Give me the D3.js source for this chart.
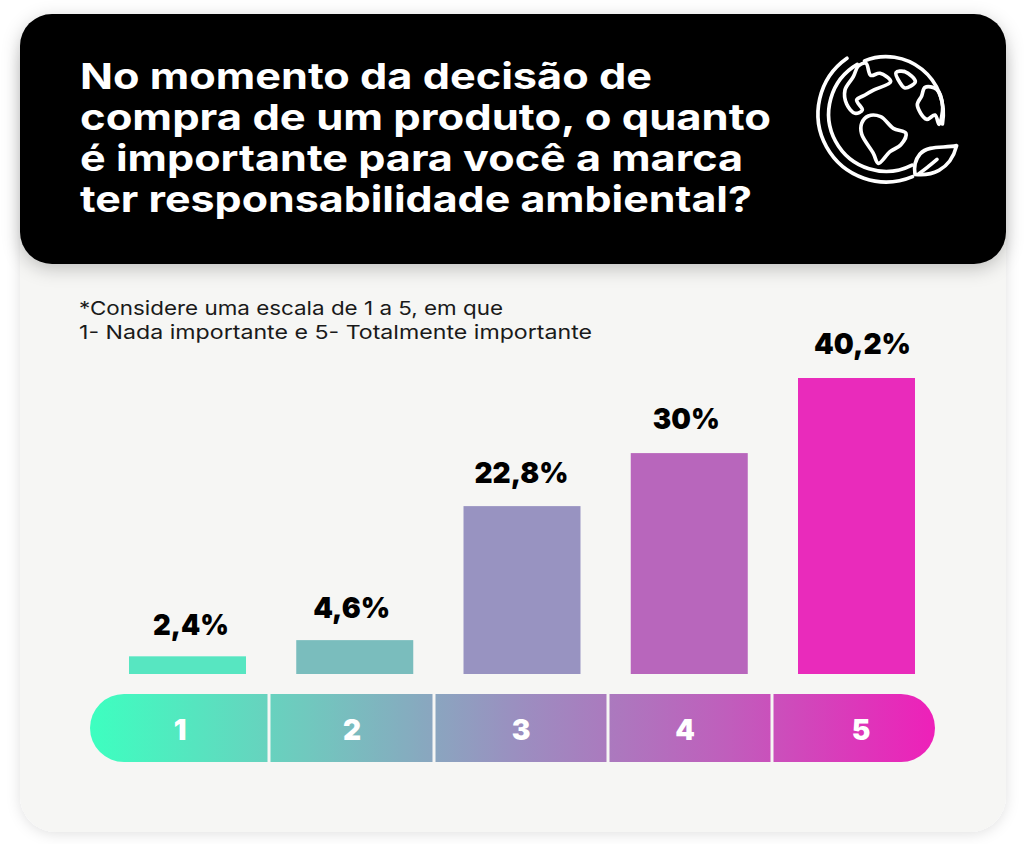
<!DOCTYPE html>
<html lang="pt-BR">
<head>
<meta charset="utf-8">
<title>Responsabilidade ambiental</title>
<script src="https://cdn.jsdelivr.net/npm/d3@7"></script>
<style>
  html, body { margin: 0; padding: 0; background: #fff; }
  svg { display: block; }
  text { font-family: Inter, "Open Sans", sans-serif; }
</style>
</head>
<body>
<svg id="chart" width="1024" height="844"></svg>
<script>
// Survey answers, one entry per scale step
const categories = ["1", "2", "3", "4", "5"];
const percentages = [2.4, 4.6, 22.8, 30, 40.2];
const valueLabels = ["2,4%", "4,6%", "22,8%", "30%", "40,2%"];
const barColors = ["#57e6c1", "#7abdbd", "#9893c1", "#b866bc", "#e92bbb"];
const titleLines = [
  "No momento da decisão de",
  "compra de um produto, o quanto",
  "é importante para você a marca",
  "ter responsabilidade ambiental?"
];
const noteLines = [
  "*Considere uma escala de 1 a 5, em que",
  "1- Nada importante e 5- Totalmente importante"
];

// Layout
const titleWidths = [572, 691, 663, 672];
const noteWidths = [424, 513];
const labelWidths = [76, 77, 94, 67, 97];
const labelShiftX = [3.5, -3, -0.5, -3, 6];
const labelGap = [21, 22, 23, 24, 24];
const stripDividers = [269, 434, 608, 772];
const stripCenters = [180, 352, 521, 685, 861];

const svg = d3.select("#chart");
const defs = svg.append("defs");

const softShadow = defs.append("filter").attr("id", "cardShadow")
  .attr("x", "-5%").attr("y", "-5%").attr("width", "110%").attr("height", "110%");
softShadow.append("feDropShadow")
  .attr("dx", 0).attr("dy", 2).attr("stdDeviation", 7)
  .attr("flood-color", "#000").attr("flood-opacity", 0.12);

const headerShadow = defs.append("filter").attr("id", "headerShadow")
  .attr("x", "-5%").attr("y", "-10%").attr("width", "110%").attr("height", "125%");
headerShadow.append("feDropShadow")
  .attr("dx", 0).attr("dy", 5).attr("stdDeviation", 9)
  .attr("flood-color", "#000").attr("flood-opacity", 0.22);

const stripGradient = defs.append("linearGradient").attr("id", "stripGradient");
[["0%", "#3dffc0"], ["25%", "#6fcabe"], ["50%", "#9a90c0"], ["75%", "#bf5fbc"], ["100%", "#ee20b9"]]
  .forEach(([offset, color]) => stripGradient.append("stop").attr("offset", offset).attr("stop-color", color));

// Card and header panel
svg.append("rect").attr("x", 20).attr("y", 30).attr("width", 986).attr("height", 802)
  .attr("rx", 36).attr("fill", "#f6f6f4").attr("filter", "url(#cardShadow)");
svg.append("rect").attr("x", 20).attr("y", 14).attr("width", 986).attr("height", 250)
  .attr("rx", 32).attr("fill", "#000").attr("filter", "url(#headerShadow)");

// Title
svg.append("g").selectAll("text").data(titleLines).join("text")
  .attr("x", 80)
  .attr("y", (d, i) => 89 + i * 41)
  .attr("font-size", 36)
  .attr("font-weight", 700)
  .attr("fill", "#fff")
  .attr("textLength", (d, i) => titleWidths[i])
  .attr("lengthAdjust", "spacingAndGlyphs")
  .text(d => d);

// Scale note
svg.append("g").selectAll("text").data(noteLines).join("text")
  .attr("x", 79)
  .attr("y", (d, i) => 315 + i * 24)
  .attr("font-size", 19)
  .attr("font-weight", 400)
  .attr("fill", "#1a1a1a")
  .attr("textLength", (d, i) => noteWidths[i])
  .attr("lengthAdjust", "spacingAndGlyphs")
  .text(d => d);

// Bars
const barX = d3.scalePoint().domain(categories).range([187.5, 856.5]);
const y = d3.scaleLinear().domain([0, 40.2]).range([674, 378]);
const barWidth = 117;

const bars = svg.append("g").selectAll("g").data(categories).join("g");
bars.append("rect")
  .attr("x", d => barX(d) - barWidth / 2)
  .attr("width", barWidth)
  .attr("y", (d, i) => y(percentages[i]))
  .attr("height", (d, i) => y(0) - y(percentages[i]))
  .attr("fill", (d, i) => barColors[i]);
bars.append("text")
  .attr("x", (d, i) => barX(d) + labelShiftX[i])
  .attr("y", (d, i) => y(percentages[i]) - labelGap[i])
  .attr("text-anchor", "middle")
  .attr("font-size", 29)
  .attr("font-weight", 900)
  .attr("fill", "#000")
  .attr("textLength", (d, i) => labelWidths[i])
  .attr("lengthAdjust", "spacingAndGlyphs")
  .text((d, i) => valueLabels[i]);

// Gradient scale strip under the bars
svg.append("rect").attr("x", 90).attr("y", 694).attr("width", 845).attr("height", 68)
  .attr("rx", 34).attr("fill", "url(#stripGradient)");
svg.append("g").selectAll("line").data(stripDividers).join("line")
  .attr("x1", d => d).attr("x2", d => d).attr("y1", 693).attr("y2", 763)
  .attr("stroke", "#f6f6f4").attr("stroke-width", 3);
svg.append("g").selectAll("text").data(categories).join("text")
  .attr("x", (d, i) => stripCenters[i])
  .attr("y", 740)
  .attr("text-anchor", "middle")
  .attr("font-size", 28)
  .attr("font-weight", 900)
  .attr("fill", "#fff")
  .text(d => d);

// Globe icon with leaf
const icon = svg.append("g")
  .attr("transform", "translate(790,30) scale(0.3333)")
  .attr("fill", "none").attr("stroke", "#fff")
  .attr("stroke-width", 11).attr("stroke-linecap", "round").attr("stroke-linejoin", "round");
const closedShape = d3.line().curve(d3.curveCatmullRomClosed.alpha(0.5));
const openShape = d3.line().curve(d3.curveCatmullRom.alpha(0.5));

const arc = d3.arc();
const arcAt = (r, start, end) => arc({ innerRadius: r, outerRadius: r, startAngle: start, endAngle: end });
const deg = Math.PI / 180;
icon.append("path").attr("transform", "translate(288,252)").attr("d", arcAt(172, -22 * deg, 100 * deg));
icon.append("path").attr("transform", "translate(288,252)").attr("d", arcAt(172, 153 * deg, 330 * deg));
icon.append("path").attr("transform", "translate(288,252)").attr("d", arcAt(204, 157 * deg, 325 * deg));

[
  [[205, 108], [190, 140], [165, 180], [170, 222], [195, 250], [217, 240], [200, 210], [225, 195], [252, 180], [302, 155], [270, 130], [242, 136], [228, 100]],
  [[318, 128], [345, 125], [376, 155], [345, 174], [330, 158]],
  [[405, 172], [440, 178], [458, 230], [447, 283], [435, 255], [410, 268], [382, 225], [395, 198]],
  [[235, 258], [272, 260], [310, 295], [348, 310], [332, 345], [300, 365], [265, 400], [250, 370], [215, 312], [215, 280]]
].forEach(points => icon.append("path").attr("d", closedShape(points)));

icon.append("path").attr("d", "M500,347 C460,355 415,345 390,372 C375,390 372,415 375,433 C420,438 480,425 500,347 Z");
icon.append("path").attr("d", openShape([[387, 431], [412, 412], [441, 388]]));
</script>
</body>
</html>
